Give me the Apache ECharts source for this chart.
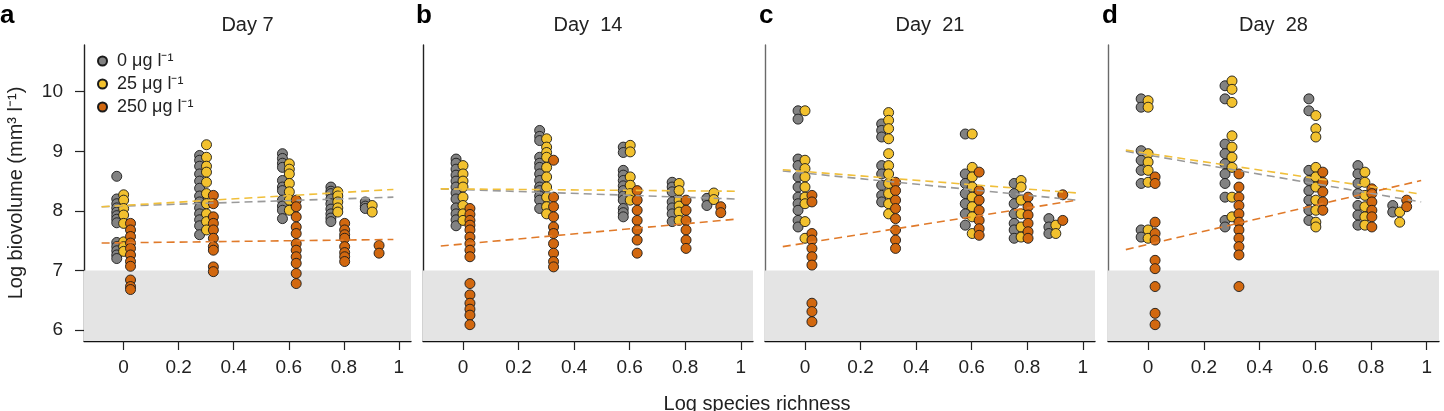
<!DOCTYPE html>
<html>
<head>
<meta charset="utf-8">
<script src="https://cdn.jsdelivr.net/npm/echarts@6/dist/echarts.min.js"></script>
<style>
  html, body { margin: 0; padding: 0; background: #fff; }
  #chart { width: 1444px; height: 411px; }
</style>
</head>
<body>
<div id="chart"></div>
<script>
// log10 of species richness (1, 2, 4, 6, 8)
const richness = [0, 0.301, 0.602, 0.778, 0.903];
const treatments = ["0 μg l⁻¹", "25 μg l⁻¹", "250 μg l⁻¹"];
const days = ["Day 7", "Day  14", "Day  21", "Day  28"];
const panelLetters = ["a", "b", "c", "d"];
const xTicks = [0, 0.2, 0.4, 0.6, 0.8, 1];
const yTicks = [6, 7, 8, 9, 10];
const detectionLimit = 7;

// log biovolume per richness level, one list per treatment and day
const gray7 = [
  [8.58, 8.2, 8.12, 8.05, 7.98, 7.92, 7.86, 7.8, 7.47, 7.4, 7.33, 7.26, 7.2],
  [8.93, 8.85, 8.75, 8.62, 8.5, 8.38, 8.25, 8.15, 8.05, 7.95, 7.85, 7.75, 7.6],
  [8.96, 8.88, 8.8, 8.73, 8.51, 8.4, 8.34, 8.18, 8.08, 8.01, 7.87],
  [8.4, 8.33, 8.29, 8.2, 8.12, 8.03, 7.95, 7.88, 7.82],
  [8.15, 8.08, 8.04],
];
const yellow7 = [
  [8.27, 8.18, 8.04, 7.93, 7.79, 7.48, 7.4, 7.32],
  [9.11, 8.9, 8.75, 8.65, 8.48, 8.29, 8.12, 7.95, 7.82, 7.68],
  [8.79, 8.7, 8.62, 8.46, 8.32, 8.18, 8.01],
  [8.32, 8.25, 8.15, 8.05, 7.98],
  [8.09, 7.98],
];
const orange7 = [
  [7.79, 7.68, 7.57, 7.46, 7.37, 7.26, 7.15, 7.07, 6.84, 6.73, 6.68],
  [8.26, 8.12, 7.9, 7.79, 7.68, 7.54, 7.4, 7.34, 7.06, 6.98],
  [8.18, 8.07, 7.9, 7.73, 7.62, 7.45, 7.34, 7.23, 7.12, 6.95, 6.78],
  [7.79, 7.68, 7.6, 7.54, 7.4, 7.3, 7.23, 7.15],
  [7.42, 7.29],
];

const gray14 = [
  [8.87, 8.8, 8.7, 8.6, 8.5, 8.4, 8.3, 8.2, 8.05, 7.95, 7.85, 7.75],
  [9.35, 9.25, 9.18, 8.9, 8.8, 8.73, 8.62, 8.51, 8.4, 8.34, 8.25, 8.18, 8.04],
  [9.07, 8.98, 8.68, 8.6, 8.51, 8.42, 8.34, 8.25, 8.18, 8.04, 7.97, 7.9],
  [8.48, 8.4, 8.32, 8.15, 8.05, 7.95, 7.82],
  [8.21, 8.09],
];
const yellow14 = [
  [8.76, 8.62, 8.5, 8.4, 8.23, 8.09, 7.95, 7.84],
  [9.21, 9.07, 8.98, 8.9, 8.73, 8.57, 8.4, 8.23, 8.07, 7.95],
  [9.1, 8.99, 8.57, 8.43, 8.29, 8.18],
  [8.46, 8.34, 8.18, 8.08, 7.98, 7.84],
  [8.3, 8.19],
];
const orange14 = [
  [8.04, 7.94, 7.84, 7.76, 7.68, 7.56, 7.45, 7.34, 7.23, 6.78, 6.59, 6.45, 6.35, 6.25, 6.09],
  [8.85, 8.23, 8.07, 7.9, 7.73, 7.62, 7.45, 7.29, 7.15, 7.06],
  [8.34, 8.18, 8.01, 7.84, 7.68, 7.51, 7.29],
  [8.18, 8.01, 7.84, 7.68, 7.51, 7.37],
  [8.07, 7.97],
];

const gray21 = [
  [9.68, 9.54, 8.87, 8.76, 8.57, 8.4, 8.23, 8.12, 8.01, 7.84, 7.73],
  [9.46, 9.35, 9.24, 8.76, 8.62, 8.43, 8.26, 8.15],
  [9.29, 8.62, 8.46, 8.29, 8.12, 7.95, 7.76],
  [8.46, 8.29, 8.12, 7.95, 7.79, 7.68, 7.54],
  [7.87, 7.73, 7.62],
];
const yellow21 = [
  [9.68, 8.85, 8.71, 8.57, 8.4, 8.23, 8.12, 7.82, 7.54],
  [9.65, 9.52, 9.38, 9.21, 8.96, 8.76, 8.62, 8.46, 8.29, 8.12, 7.95],
  [9.29, 8.73, 8.57, 8.4, 8.23, 8.07, 7.9, 7.62],
  [8.51, 8.4, 8.18, 7.95, 7.73, 7.56],
  [7.76, 7.62],
];
const orange21 = [
  [8.26, 8.15, 7.62, 7.51, 7.37, 7.23, 7.09, 6.45, 6.31, 6.14],
  [8.48, 8.34, 8.18, 8.04, 7.87, 7.68, 7.51, 7.37],
  [8.65, 8.34, 8.18, 8.01, 7.84, 7.7, 7.59],
  [8.23, 8.07, 7.93, 7.79, 7.65, 7.54],
  [8.27, 7.84],
];

const gray28 = [
  [9.88, 9.74, 9.01, 8.85, 8.68, 8.46, 7.68, 7.56],
  [10.1, 9.88, 9.12, 8.96, 8.79, 8.62, 8.46, 8.23, 7.84, 7.73],
  [9.88, 9.68, 8.68, 8.51, 8.34, 8.18, 8.01, 7.84],
  [8.76, 8.62, 8.46, 8.29, 8.09, 7.93, 7.76],
  [8.09, 7.98],
];
const yellow28 = [
  [9.85, 9.74, 8.96, 8.82, 8.68, 8.48, 7.68, 7.54],
  [10.18, 10.04, 9.82, 9.26, 9.07, 8.9, 8.73, 8.23, 7.9],
  [9.6, 9.38, 9.24, 8.73, 8.57, 8.4, 8.18, 8.01, 7.81, 7.73],
  [8.65, 8.48, 8.26, 8.07, 7.9, 7.76],
  [7.98, 7.81],
];
const orange28 = [
  [8.57, 8.46, 7.81, 7.62, 7.51, 7.17, 7.03, 6.73, 6.28, 6.09],
  [8.62, 8.4, 8.23, 8.09, 7.95, 7.81, 7.68, 7.54, 7.4, 7.26, 6.73],
  [8.65, 8.48, 8.32, 8.15, 8.01],
  [8.37, 8.29, 8.15, 8.01, 7.9, 7.73],
  [8.18, 8.07],
];

// fitted lines: start / end values over fitX, per treatment
const fitX = [-0.08, 0.98];
const fit7 = [[8.07, 8.23], [8.07, 8.36], [7.46, 7.52]];
const fit14 = [[8.37, 8.2], [8.37, 8.33], [7.41, 7.86]];
const fit21 = [[8.67, 8.18], [8.69, 8.3], [7.4, 8.18]];
const fit28 = [[9.0, 8.15], [9.02, 8.28], [7.35, 8.51]];

const points = [
  [gray7, yellow7, orange7],
  [gray14, yellow14, orange14],
  [gray21, yellow21, orange21],
  [gray28, yellow28, orange28],
];
const fits = [fit7, fit14, fit21, fit28];

// styling
const FONT = "'Liberation Sans', Arial, Helvetica, sans-serif";
const pointColors = ["#828282", "#f2c12e", "#d2680f"];
const lineColors = ["#9a9a9a", "#f0bf3a", "#e07a2a"];
const dodge = [-0.025, 0, 0.025];
const xMin = -0.144, xMax = 1.044;
const yMin = 5.816, yMax = 10.784;
const panels = [
  { left: 84, width: 327, yLine: "#222", letterX: 0 },
  { left: 423, width: 330, yLine: "#222", letterX: 416 },
  { left: 765, width: 330, yLine: "#6a6a6a", letterX: 759 },
  { left: 1108, width: 331, yLine: "#6a6a6a", letterX: 1102 },
];
const TOP = 45, HEIGHT = 296;

const chart = echarts.init(document.getElementById("chart"));

const grid = panels.map((p) => ({ left: p.left, top: TOP, width: p.width, height: HEIGHT }));

const xAxis = panels.map((p, i) => ({
  type: "value",
  gridIndex: i,
  min: xMin,
  max: xMax,
  axisLine: { show: true, onZero: false, lineStyle: { color: "#111", width: 1.3 } },
  axisTick: { show: true, length: 9, customValues: xTicks, lineStyle: { color: "#222", width: 1.2 } },
  axisLabel: {
    customValues: xTicks,
    margin: 17,
    color: "#222",
    fontSize: 19,
    fontFamily: FONT,
    formatter: (v) => String(v),
  },
  splitLine: { show: false },
}));

const yAxis = panels.map((p, i) => ({
  type: "value",
  gridIndex: i,
  min: yMin,
  max: yMax,
  name: i === 0 ? "Log biovolume (mm³ l⁻¹)" : "",
  nameLocation: "middle",
  nameGap: 58,
  nameTextStyle: { color: "#222", fontSize: 20, fontFamily: FONT },
  axisLine: { show: true, onZero: false, lineStyle: { color: p.yLine, width: 1.4 } },
  axisTick: { show: i === 0, length: 9, customValues: yTicks, lineStyle: { color: "#222", width: 1.2 } },
  axisLabel: {
    show: i === 0,
    customValues: yTicks,
    margin: 21,
    color: "#222",
    fontSize: 19,
    fontFamily: FONT,
  },
  splitLine: { show: false },
}));

const series = [];
points.forEach((groups, p) => {
  groups.forEach((levels, t) => {
    const data = [];
    levels.forEach((vals, k) => {
      vals.forEach((v) => data.push([richness[k] + dodge[t], v]));
    });
    const s = {
      type: "scatter",
      name: treatments[t],
      xAxisIndex: p,
      yAxisIndex: p,
      data: data,
      symbol: "circle",
      symbolSize: 10,
      z: 3 + t,
      itemStyle: { color: pointColors[t], borderColor: "#1a1a1a", borderWidth: 0.9, opacity: 1 },
      emphasis: { disabled: true },
    };
    if (t === 0) {
      s.markArea = {
        silent: true,
        itemStyle: { color: "#e4e4e4" },
        data: [[{ yAxis: yMin }, { yAxis: detectionLimit }]],
      };
    }
    series.push(s);
  });
  fits[p].forEach((f, t) => {
    series.push({
      type: "line",
      name: "fit " + t + " " + p,
      xAxisIndex: p,
      yAxisIndex: p,
      data: [[fitX[0], f[0]], [fitX[1], f[1]]],
      symbol: "none",
      z: 10 + t,
      lineStyle: { color: lineColors[t], width: 1.6, type: [8, 5] },
      emphasis: { disabled: true },
    });
  });
});

const graphic = [];
panels.forEach((p, i) => {
  graphic.push({
    type: "text",
    x: p.left + p.width / 2,
    y: 25,
    style: {
      text: days[i],
      font: "20px " + FONT,
      fill: "#222",
      textAlign: "center",
      textVerticalAlign: "middle",
      align: "center",
      verticalAlign: "middle",
    },
  });
  graphic.push({
    type: "text",
    x: p.letterX,
    y: 16,
    style: {
      text: panelLetters[i],
      font: "bold 26px " + FONT,
      fill: "#000",
      textVerticalAlign: "middle",
      verticalAlign: "middle",
    },
  });
});
graphic.push({
  type: "text",
  x: 757,
  y: 404,
  style: {
    text: "Log species richness",
    font: "20px " + FONT,
    fill: "#222",
    textAlign: "center",
    textVerticalAlign: "middle",
    align: "center",
    verticalAlign: "middle",
  },
});

chart.setOption({
  animation: false,
  backgroundColor: "#fff",
  grid: grid,
  xAxis: xAxis,
  yAxis: yAxis,
  legend: {
    data: treatments,
    orient: "vertical",
    left: 92,
    top: 47,
    itemWidth: 9,
    itemHeight: 9,
    itemGap: 5,
    icon: "circle",
    textStyle: { color: "#222", fontSize: 18, fontFamily: FONT, padding: [0, 0, 0, 5] },
  },
  graphic: graphic,
  series: series,
});

window.addEventListener("resize", () => chart.resize());
</script>
</body>
</html>
